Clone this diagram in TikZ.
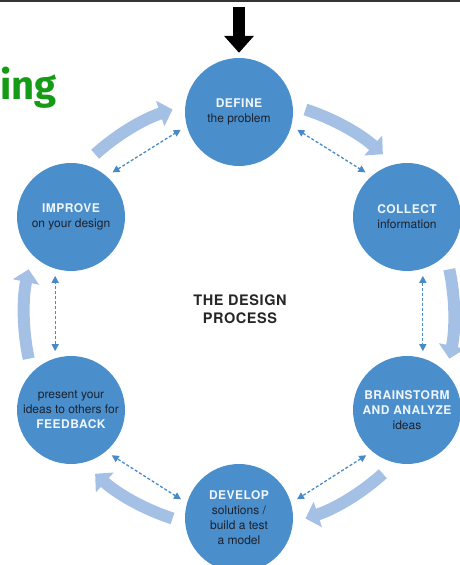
\documentclass[tikz,border=0pt]{standalone}
\usepackage{fontspec}
\setmainfont{TeX Gyre Heros}
\newfontfamily\keyfont[LetterSpace=4]{TeX Gyre Heros}
\newfontfamily\headfont{Fira Sans}
\usepackage{tikz}
\usetikzlibrary{arrows.meta}
\definecolor{stageblue}{RGB}{75,142,204}
\definecolor{flowblue}{RGB}{164,192,229}
\definecolor{linkblue}{RGB}{72,138,200}
\definecolor{keywhite}{RGB}{240,245,250}
\definecolor{stagetext}{RGB}{28,34,46}
\definecolor{titlegray}{RGB}{38,38,38}
\definecolor{headgreen}{RGB}{22,155,22}
\definecolor{framegray}{RGB}{52,52,52}
\tikzset{every picture/.style={
  >={Triangle[length=7pt,width=7pt]}   % Small solid tips.
  }
}
\newcommand\stagekey[1]{{\keyfont\bfseries\color{keywhite}#1}}

\begin{document}
\begin{tikzpicture}[
    x=1pt, y=1pt,
    stage/.style={
      circle,
      fill=stageblue,
      minimum size=108pt,
      inner sep=0pt,
      align=center,
      text=stagetext,
      font=\fontsize{12}{15}\selectfont
    },
    flow/.style={
      draw=flowblue,
      line width=12pt,
      -{Triangle[length=13pt,width=26pt]}
    },
    link/.style={
      draw=linkblue,
      line width=1.3pt,
      dash pattern=on 3pt off 2pt,
      <->,
      shorten <=7pt,
      shorten >=7pt
    }]
    \useasboundingbox (0,0) rectangle (460,565);
    \draw[framegray,line width=4pt] (0,565) -- (460,565);

    % The six stages round the cycle.
    \coordinate (hub) at (239,251);
    \node[stage] (define)     at (239,453) {\stagekey{DEFINE}\\the problem};
    \node[stage] (collect)    at (407,348) {\stagekey{COLLECT}\\information};
    \node[stage] (brainstorm) at (407,155)
      {\stagekey{BRAINSTORM}\\\stagekey{AND ANALYZE}\\ideas};
    \node[stage] (develop)    at (239,47)
      {\stagekey{DEVELOP}\\solutions /\\build a test\\a model};
    \node[stage] (feedback)   at (71,155)
      {present your\\ideas to others for\\\stagekey{FEEDBACK}};
    \node[stage] (improve)    at (71,348) {\stagekey{IMPROVE}\\on your design};

    \node[align=center,text=titlegray,
      font=\keyfont\bfseries\fontsize{14.5}{18}\selectfont] (title) at (240,256)
      {THE DESIGN\\PROCESS};
    \node[anchor=base west,inner sep=0pt,text=headgreen,
      font=\headfont\bfseries\fontsize{40}{40}\selectfont] (heading) at (0,465)
      {ing};

    % Entry into the cycle.
    \coordinate (entry) at (239,558);
    \draw[black,line width=12pt,-{Triangle[length=17pt,width=29pt]},
      shorten >=5pt] (entry) -- (define);

    % Main flow, clockwise.
    \draw[flow] ([shift={(72:215)}]hub) arc[start angle=72,end angle=48,radius=215];
    \draw[flow] ([shift={(12:215)}]hub) arc[start angle=12,end angle=-12,radius=215];
    \draw[flow] ([shift={(-48:215)}]hub) arc[start angle=-48,end angle=-72,radius=215];
    \draw[flow] ([shift={(-108:215)}]hub) arc[start angle=-108,end angle=-132,radius=215];
    \draw[flow] ([shift={(192:215)}]hub) arc[start angle=192,end angle=168,radius=215];
    \draw[flow] ([shift={(132:215)}]hub) arc[start angle=132,end angle=108,radius=215];

    % Going back and forth between neighbours.
    \draw[link] (define.-15)    -- (collect.131);
    \draw[link] (collect.-73)   -- (brainstorm.73);
    \draw[link] (brainstorm.-130) -- (develop.16);
    \draw[link] (develop.164)   -- (feedback.-50);
    \draw[link] (feedback.107)  -- (improve.-107);
    \draw[link] (improve.49)    -- (define.-165);
  \end{tikzpicture}
\end{document}
